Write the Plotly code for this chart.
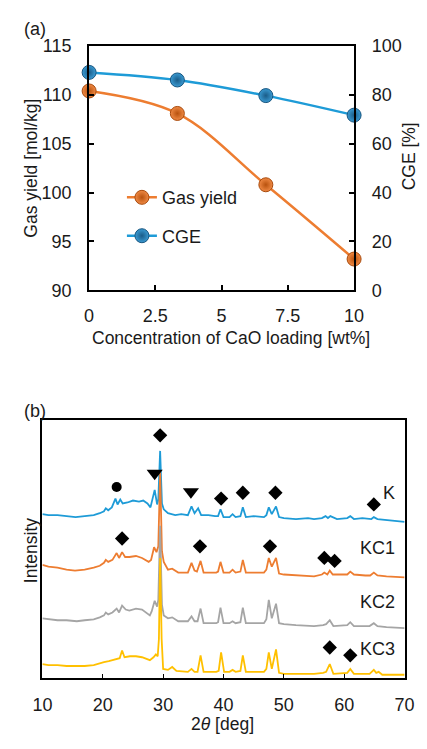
import plotly.graph_objects as go

# ---------------- (a) gas yield and CGE vs CaO loading ----------------
cao_loading = [0, 3.33, 6.67, 10]            # wt%
gas_yield = [110.4, 108.1, 100.8, 93.2]      # mol/kg
cge = [89.2, 86.1, 79.7, 71.7]               # %

x_ticks_a = [0, 2.5, 5, 7.5, 10]
x_ticklabels_a = ["0", "2.5", "5", "7.5", "10"]

# ---------------- (b) XRD patterns (2θ [deg], intensity [a.u.]) ----------------
K_PATTERN = [(10, 13), (11, 12), (12.5, 12), (14, 11), (15.5, 10), (17, 11), (18.5, 12),
             (19.5, 14), (20.2, 16), (20.5, 19), (20.9, 17), (21.5, 20), (22.1, 29), (22.45, 23),
             (22.9, 28), (23.3, 24), (24.1, 25), (25.0, 27), (26.0, 26), (26.7, 27), (27.4, 24),
             (27.9, 20), (28.6, 38), (29.0, 23), (29.2, 28), (29.5, 78), (29.8, 24), (30.1, 18),
             (30.8, 14), (32, 12), (33, 13), (34.1, 12), (34.7, 21), (35.2, 14), (35.8, 19),
             (36.3, 12), (37.5, 12), (38.6, 11), (39.1, 11), (39.5, 18), (40.0, 10), (41.0, 10),
             (41.5, 13), (42.0, 10), (42.8, 11), (43.2, 20), (43.7, 10), (45, 11), (46.7, 10),
             (47.1, 12), (47.5, 20), (48.0, 13), (48.7, 21), (49.2, 10), (50, 9), (52, 8), (54, 9),
             (55, 8), (56.3, 9), (56.9, 11), (57.3, 9), (57.7, 11), (58.0, 10), (58.8, 8),
             (60.5, 9), (61.0, 11), (61.6, 8), (63, 9), (64.5, 8), (64.9, 10), (65.5, 8), (67, 7),
             (68.5, 6), (70, 5)]

KC1_PATTERN = [(10, 16), (11, 14), (12.5, 13), (14, 11), (15.4, 10), (17, 11), (18.5, 13),
               (19.5, 15), (20.2, 18), (20.5, 21), (20.9, 19), (21.6, 21), (22.3, 28), (22.7, 23),
               (23.2, 29), (23.7, 24), (24.4, 24), (25.5, 25), (26.5, 23), (27.6, 19), (28.0, 21),
               (28.5, 34), (28.9, 29), (29.2, 35), (29.5, 111), (29.8, 30), (30.1, 19), (30.8, 11),
               (31.5, 12), (32.5, 8), (34.1, 8), (34.7, 18), (35.2, 10), (35.6, 9), (36.2, 20),
               (36.7, 8), (38.8, 8), (39.1, 9), (39.5, 19), (40.0, 8), (41.0, 8), (41.5, 11),
               (42.0, 8), (42.8, 9), (43.2, 21), (43.7, 8), (46.7, 8), (47.1, 11), (47.5, 23),
               (48.0, 14), (48.7, 23), (49.2, 7), (50, 6), (52, 5), (55, 4), (56.3, 6), (56.7, 8),
               (57.2, 6), (57.6, 10), (58.1, 6), (60.5, 6), (61.0, 9), (61.6, 6), (63.5, 5),
               (64.3, 5), (64.9, 8), (65.5, 5), (67, 4), (70, 3)]

KC2_PATTERN = [(10, 11), (11, 10), (12.5, 9), (14, 9), (15.7, 8), (17, 9), (18.5, 10),
               (19.5, 12), (20.2, 14), (20.5, 17), (20.9, 15), (21.6, 17), (22.3, 21), (22.7, 17),
               (23.2, 24), (23.8, 20), (24.4, 19), (25.5, 21), (26.5, 20), (27.8, 14), (28.1, 18),
               (28.6, 29), (29.0, 23), (29.2, 30), (29.5, 106), (29.8, 25), (30.1, 14), (30.8, 11),
               (31.5, 12), (32.5, 8), (34.1, 8), (34.7, 13), (35.2, 8), (35.7, 8), (36.2, 21),
               (36.7, 6), (38.8, 6), (39.1, 7), (39.5, 22), (40.0, 6), (41.0, 6), (41.5, 8),
               (42.0, 6), (42.8, 7), (43.2, 22), (43.7, 6), (46.7, 6), (47.1, 10), (47.5, 30),
               (48.0, 11), (48.7, 26), (49.2, 6), (50, 5), (52, 4), (55, 3), (56.5, 4), (57.0, 5),
               (57.6, 9), (58.2, 3), (60.5, 4), (61.0, 7), (61.6, 3), (64.2, 3), (64.9, 6),
               (65.5, 3), (67, 2), (70, 1)]

KC3_PATTERN = [(10, 14), (11, 13), (12.5, 13), (14, 12), (15.7, 12), (17, 12), (18.5, 13),
               (19.5, 15), (20.2, 16), (21.0, 17), (21.6, 18), (22.3, 19), (22.8, 20), (23.2, 28),
               (23.6, 21), (24.5, 22), (25.5, 22), (26.5, 21), (27.8, 18), (28.4, 21), (28.8, 24),
               (29.1, 22), (29.3, 40), (29.5, 123), (29.75, 40), (30.0, 9), (30.8, 8), (31.5, 11),
               (32.2, 7), (34.1, 6), (34.7, 9), (35.2, 6), (35.7, 6), (36.2, 23), (36.7, 6),
               (38.8, 6), (39.2, 7), (39.6, 26), (40.1, 6), (41.0, 6), (41.5, 8), (42.0, 6),
               (42.8, 7), (43.2, 23), (43.7, 6), (46.7, 6), (47.1, 9), (47.5, 26), (48.0, 9),
               (48.7, 29), (49.2, 5), (50, 4), (52, 4), (55, 4), (56.5, 5), (57.0, 6), (57.6, 14),
               (58.2, 4), (60.5, 5), (61.0, 9), (61.6, 4), (64.2, 4), (64.9, 8), (65.3, 5),
               (65.7, 6), (66.3, 3), (70, 3)]

samples = ["K", "KC1", "KC2", "KC3"]
patterns = [K_PATTERN, KC1_PATTERN, KC2_PATTERN, KC3_PATTERN]
stack_offsets = [155, 100, 50, 0]
sample_label_heights = [190, 133, 78, 29]

# phase markers: (2θ, height on the stacked intensity scale)
diamond_marks = [(29.5, 249), (39.6, 184), (43.2, 190), (48.6, 190), (64.9, 178),
                 (23.2, 143), (36.1, 135), (47.7, 135), (56.7, 123), (58.4, 120),
                 (57.6, 31), (61.0, 23)]
triangle_marks = [(28.6, 210), (34.6, 191)]
circle_marks = [(22.3, 196)]

# ---------------- styling ----------------
FONT = "Liberation Sans, Arial, sans-serif"
TXT = "#1a1a1a"
ORANGE = "#ED7D31"
BLUE = "#1E9BD7"
GRAY = "#A5A5A5"
YELLOW = "#FFC000"
series_colors = [BLUE, ORANGE, GRAY, YELLOW]
FS = 18

fig = go.Figure()

fig.add_trace(go.Scatter(
    x=cao_loading, y=gas_yield, name="Gas yield", mode="lines+markers",
    line=dict(color=ORANGE, width=2.5, shape="spline"),
    marker=dict(size=14, color="#F08A45", line=dict(color="#A84A0C", width=1),
                gradient=dict(type="radial", color="#B8520E")),
    cliponaxis=False, xaxis="x", yaxis="y", legendgroup="a",
))
fig.add_trace(go.Scatter(
    x=cao_loading, y=cge, name="CGE", mode="lines+markers",
    line=dict(color=BLUE, width=2.5, shape="spline"),
    marker=dict(size=14, color="#3A9AD2", line=dict(color="#17557F", width=1),
                gradient=dict(type="radial", color="#1A5C88")),
    cliponaxis=False, xaxis="x", yaxis="y2", legendgroup="b",
))

for name, pat, off, col in zip(samples, patterns, stack_offsets, series_colors):
    tt = [p[0] for p in pat]
    inten = [p[1] + off for p in pat]
    fig.add_trace(go.Scatter(
        x=tt, y=inten, mode="lines", name=name, showlegend=False,
        line=dict(color=col, width=1.8), xaxis="x2", yaxis="y3",
    ))

fig.add_trace(go.Scatter(
    x=[m[0] for m in diamond_marks], y=[m[1] for m in diamond_marks], mode="markers",
    marker=dict(symbol="diamond", size=11, color="black"), showlegend=False,
    xaxis="x2", yaxis="y3",
))
fig.add_trace(go.Scatter(
    x=[m[0] for m in triangle_marks], y=[m[1] for m in triangle_marks], mode="markers",
    marker=dict(symbol="triangle-down", size=14, color="black"), showlegend=False,
    xaxis="x2", yaxis="y3",
))
fig.add_trace(go.Scatter(
    x=[m[0] for m in circle_marks], y=[m[1] for m in circle_marks], mode="markers",
    marker=dict(symbol="circle", size=10, color="black"), showlegend=False,
    xaxis="x2", yaxis="y3",
))

annotations = [
    dict(text="(a)", x=26, y=20, size=FS),
    dict(text="(b)", x=26, y=412, size=FS),
    dict(text="Gas yield [mol/kg]", x=22, y=162, textangle=-90, size=17.5),
    dict(text="CGE [%]", x=419, y=150, textangle=-90, size=17.5),
    dict(text="Concentration of CaO loading [wt%]", x=232, y=337, size=17.5),
    dict(text="Intensity", x=22, y=555, textangle=-90, size=17.5),
    dict(text="2<i>θ</i> [deg]", x=223, y=734, size=17.5),
]
W, H = 427, 749
ann = []
for a in annotations:
    ann.append(dict(text=a["text"], x=a["x"] / W, y=1 - a["y"] / H, xref="paper", yref="paper",
                    showarrow=False, xanchor="center", yanchor="middle",
                    textangle=a.get("textangle", 0),
                    font=dict(size=a["size"], color=TXT, family=FONT)))
for name, h in zip(samples, sample_label_heights):
    ann.append(dict(text=name, x=68.8, y=h, xref="x2", yref="y3", showarrow=False,
                    xanchor="right", yanchor="middle", font=dict(size=FS, color=TXT, family=FONT)))

axis_common = dict(showgrid=False, zeroline=False, showline=True, linecolor="black",
                   ticks="inside", tickcolor="black", tickfont=dict(size=FS, color=TXT, family=FONT))

fig.update_layout(
    width=W, height=H, margin=dict(l=0, r=0, t=0, b=0),
    paper_bgcolor="white", plot_bgcolor="white",
    font=dict(family=FONT, size=FS, color=TXT),
    annotations=ann,
    showlegend=True,
    legend=dict(x=0.275, y=0.768, xanchor="left", yanchor="top", bgcolor="rgba(0,0,0,0)",
                font=dict(size=FS, color=TXT, family=FONT), tracegroupgap=12,
                traceorder="grouped"),
    xaxis=dict(domain=[83 / W, 361 / W], range=[0, 10], tickvals=x_ticks_a,
               ticktext=x_ticklabels_a, anchor="y", mirror=True, linewidth=2,
               ticklen=5, tickwidth=1.5, ticklabelstandoff=8, **axis_common),
    yaxis=dict(domain=[1 - 288 / H, 1 - 37 / H], range=[90, 115], dtick=5, anchor="x",
               linewidth=2, ticklen=5, tickwidth=1.5, ticklabelstandoff=12, **axis_common),
    yaxis2=dict(range=[0, 100], dtick=20, overlaying="y", side="right", anchor="x",
                linewidth=2, ticklen=5, tickwidth=1.5, ticklabelstandoff=12, **axis_common),
    xaxis2=dict(domain=[34 / W, 414 / W], range=[10, 70], dtick=10, anchor="y3", mirror=True,
                linewidth=1.5, ticklen=4, tickwidth=1.2, ticklabelstandoff=10, **axis_common),
    yaxis3=dict(domain=[1 - 686 / H, 1 - 421 / H], range=[0, 265], anchor="x2", mirror=True,
                showgrid=False, zeroline=False, showline=True, linecolor="black", linewidth=1.5,
                showticklabels=False, ticks=""),
)

fig.write_html("out.html")
